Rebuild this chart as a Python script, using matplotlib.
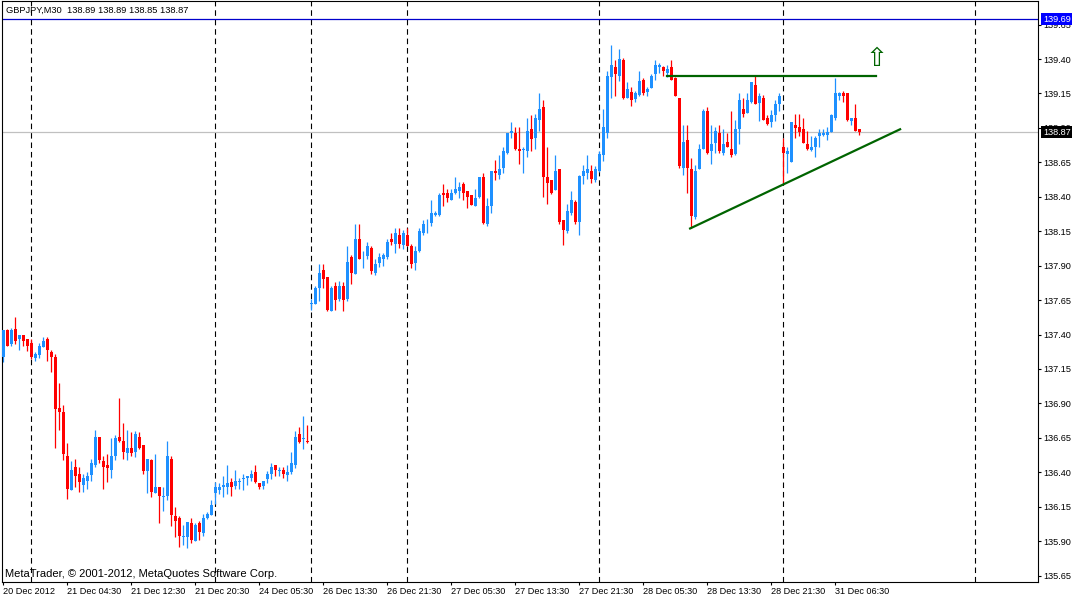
import matplotlib
matplotlib.use("Agg")
import matplotlib.pyplot as plt
import matplotlib.transforms as mtransforms
import numpy as np

plt.rcParams['font.family'] = ['Liberation Sans', 'DejaVu Sans']

symbol = "GBPJPY,M30"

# GBPJPY M30 bars
opens = [137.24, 137.43, 137.33, 137.44, 137.37, 137.40, 137.37, 137.34, 137.23, 137.25,
         137.31, 137.37, 137.27, 137.24, 136.87, 136.84, 136.52, 136.27, 136.44, 136.39,
         136.31, 136.34, 136.38, 136.45, 136.66, 136.48, 136.45, 136.42, 136.52, 136.66,
         136.63, 136.54, 136.58, 136.55, 136.66, 136.60, 136.41, 136.49, 136.25, 136.29,
         136.22, 136.23, 136.50, 136.08, 136.07, 135.93, 135.93, 136.03, 135.90, 136.03,
         135.96, 136.07, 136.09, 136.25, 136.27, 136.29, 136.29, 136.33, 136.30, 136.33,
         136.35, 136.36, 136.36, 136.40, 136.32, 136.30, 136.35, 136.39, 136.45, 136.41,
         136.42, 136.38, 136.40, 136.45, 136.68, 136.64, 136.63, 137.62, 137.62, 137.74,
         137.87, 137.82, 137.57, 137.75, 137.66, 137.75, 137.66, 137.96, 137.84, 138.09,
         137.96, 137.97, 138.03, 137.85, 137.92, 137.95, 137.96, 138.09, 138.06, 138.12,
         138.05, 138.12, 138.04, 137.92, 138.01, 138.14, 138.20, 138.21, 138.27, 138.27,
         138.43, 138.43, 138.38, 138.43, 138.44, 138.49, 138.44, 138.41, 138.33, 138.40,
         138.54, 138.20, 138.33, 138.59, 138.56, 138.61, 138.72, 138.86, 138.86, 138.75,
         138.74, 138.73, 138.89, 138.83, 138.96, 139.05, 138.54, 138.52, 138.45, 138.60,
         138.23, 138.15, 138.28, 138.36, 138.22, 138.55, 138.57, 138.59, 138.52, 138.59,
         138.70, 138.86, 139.27, 139.34, 139.28, 139.39, 139.12, 139.16, 139.11, 139.14,
         139.25, 139.16, 139.19, 139.29, 139.34, 139.34, 139.30, 139.34, 139.26, 139.12,
         138.61, 138.81, 138.60, 138.25, 138.60, 138.75, 139.02, 138.73, 138.79, 138.86,
         138.72, 138.80, 138.75, 138.71, 138.89, 139.04, 139.01, 139.09, 139.21, 139.08,
         139.12, 138.97, 138.94, 138.99, 139.07, 138.76, 138.71, 138.65, 138.92, 138.91,
         138.89, 138.78, 138.74, 138.76, 138.84, 138.85, 138.85, 138.87, 138.97, 139.13,
         139.15, 139.15, 138.95, 138.97, 138.89]
highs = [137.43, 137.44, 137.45, 137.53, 137.40, 137.40, 137.37, 137.37, 137.27, 137.34,
         137.38, 137.38, 137.29, 137.26, 137.05, 136.89, 136.61, 136.48, 136.50, 136.44,
         136.39, 136.40, 136.50, 136.71, 136.66, 136.52, 136.53, 136.65, 136.67, 136.94,
         136.76, 136.71, 136.69, 136.70, 136.69, 136.60, 136.50, 136.50, 136.53, 136.29,
         136.29, 136.63, 136.52, 136.15, 136.08, 136.02, 136.04, 136.07, 136.03, 136.05,
         136.10, 136.11, 136.20, 136.33, 136.32, 136.37, 136.45, 136.36, 136.42, 136.36,
         136.39, 136.37, 136.42, 136.45, 136.32, 136.34, 136.41, 136.47, 136.45, 136.44,
         136.44, 136.45, 136.55, 136.70, 136.73, 136.81, 136.74, 137.66, 137.75, 137.91,
         137.91, 137.82, 137.75, 137.78, 137.79, 137.78, 138.04, 137.98, 138.20, 138.20,
         138.01, 138.07, 138.04, 137.95, 137.99, 137.99, 138.09, 138.14, 138.17, 138.17,
         138.16, 138.17, 138.06, 138.04, 138.17, 138.23, 138.24, 138.38, 138.30, 138.43,
         138.49, 138.46, 138.46, 138.54, 138.51, 138.51, 138.44, 138.41, 138.46, 138.54,
         138.57, 138.39, 138.59, 138.67, 138.70, 138.76, 138.86, 138.94, 138.91, 138.91,
         138.76, 138.97, 138.99, 139.00, 139.15, 139.10, 138.76, 138.52, 138.70, 138.60,
         138.23, 138.35, 138.44, 138.38, 138.56, 138.63, 138.70, 138.63, 138.62, 138.73,
         139.04, 139.31, 139.50, 139.39, 139.47, 139.41, 139.23, 139.20, 139.17, 139.31,
         139.26, 139.20, 139.29, 139.39, 139.37, 139.35, 139.36, 139.39, 139.27, 139.12,
         138.92, 138.92, 138.68, 138.63, 138.78, 139.04, 139.05, 138.92, 138.91, 138.92,
         138.89, 138.86, 139.02, 138.96, 139.15, 139.12, 139.15, 139.23, 139.28, 139.15,
         139.14, 138.99, 139.03, 139.10, 139.15, 138.83, 138.76, 138.94, 139.00, 139.00,
         138.97, 138.88, 138.84, 138.84, 138.89, 138.89, 138.91, 139.00, 139.26, 139.16,
         139.17, 139.15, 138.97, 139.07, 138.89]
lows = [137.20, 137.32, 137.32, 137.33, 137.29, 137.32, 137.28, 137.22, 137.21, 137.23,
        137.31, 137.21, 137.13, 136.58, 136.71, 136.49, 136.21, 136.27, 136.29, 136.26,
        136.26, 136.28, 136.34, 136.44, 136.47, 136.28, 136.33, 136.36, 136.49, 136.62,
        136.50, 136.49, 136.52, 136.51, 136.57, 136.39, 136.25, 136.22, 136.25, 136.03,
        136.12, 136.20, 136.01, 135.93, 135.86, 135.87, 135.85, 135.89, 135.90, 135.91,
        135.94, 136.06, 136.09, 136.17, 136.24, 136.22, 136.24, 136.23, 136.28, 136.28,
        136.27, 136.31, 136.34, 136.32, 136.28, 136.28, 136.32, 136.35, 136.37, 136.37,
        136.36, 136.34, 136.39, 136.43, 136.61, 136.57, 136.61, 137.58, 137.62, 137.64,
        137.74, 137.57, 137.57, 137.58, 137.64, 137.57, 137.64, 137.77, 137.84, 137.95,
        137.88, 137.95, 137.84, 137.83, 137.89, 137.90, 137.95, 138.05, 137.99, 138.03,
        138.02, 138.04, 137.88, 137.87, 138.00, 138.12, 138.14, 138.19, 138.26, 138.26,
        138.33, 138.36, 138.38, 138.42, 138.39, 138.38, 138.32, 138.34, 138.33, 138.39,
        138.20, 138.19, 138.28, 138.52, 138.53, 138.57, 138.71, 138.83, 138.74, 138.64,
        138.57, 138.69, 138.73, 138.75, 138.88, 138.40, 138.35, 138.42, 138.45, 138.20,
        138.05, 138.14, 138.27, 138.20, 138.12, 138.49, 138.53, 138.50, 138.51, 138.58,
        138.66, 138.83, 139.12, 139.13, 139.24, 139.11, 139.12, 139.06, 139.09, 139.13,
        139.14, 139.13, 139.19, 139.25, 139.30, 139.28, 139.27, 139.25, 139.13, 138.61,
        138.56, 138.43, 138.17, 138.24, 138.60, 138.75, 138.71, 138.64, 138.72, 138.72,
        138.70, 138.76, 138.69, 138.70, 138.78, 138.98, 139.01, 139.08, 139.07, 138.95,
        138.96, 138.92, 138.91, 138.95, 139.02, 138.50, 138.57, 138.65, 138.83, 138.84,
        138.79, 138.74, 138.73, 138.69, 138.76, 138.84, 138.81, 138.87, 138.96, 139.10,
        139.09, 138.95, 138.92, 138.88, 138.85]
closes = [137.43, 137.32, 137.43, 137.35, 137.40, 137.35, 137.32, 137.24, 137.26, 137.32,
          137.35, 137.29, 137.24, 136.86, 136.84, 136.53, 136.28, 136.42, 136.37, 136.33,
          136.36, 136.37, 136.47, 136.66, 136.49, 136.44, 136.43, 136.52, 136.65, 136.63,
          136.55, 136.58, 136.54, 136.68, 136.58, 136.41, 136.50, 136.26, 136.29, 136.23,
          136.23, 136.52, 136.09, 136.05, 135.94, 135.94, 136.04, 135.91, 136.02, 135.97,
          136.07, 136.10, 136.16, 136.29, 136.29, 136.31, 136.32, 136.29, 136.34, 136.34,
          136.36, 136.37, 136.39, 136.33, 136.29, 136.34, 136.39, 136.44, 136.42, 136.42,
          136.39, 136.40, 136.47, 136.66, 136.62, 136.65, 136.62, 137.63, 137.74, 137.85,
          137.80, 137.58, 137.74, 137.65, 137.75, 137.65, 137.93, 137.85, 138.09, 137.95,
          137.96, 138.04, 137.86, 137.91, 137.96, 137.98, 138.07, 138.07, 138.14, 138.06,
          138.14, 138.04, 137.91, 138.01, 138.15, 138.20, 138.20, 138.28, 138.28, 138.41,
          138.41, 138.39, 138.43, 138.46, 138.47, 138.43, 138.40, 138.34, 138.39, 138.54,
          138.21, 138.33, 138.59, 138.57, 138.60, 138.73, 138.86, 138.88, 138.75, 138.73,
          138.75, 138.88, 138.82, 138.97, 139.04, 138.54, 138.50, 138.43, 138.59, 138.22,
          138.16, 138.30, 138.38, 138.22, 138.55, 138.59, 138.60, 138.53, 138.60, 138.71,
          138.91, 139.28, 139.36, 139.29, 139.40, 139.12, 139.18, 139.10, 139.15, 139.24,
          139.15, 139.18, 139.28, 139.36, 139.36, 139.31, 139.33, 139.25, 139.13, 138.62,
          138.80, 138.61, 138.26, 138.59, 138.75, 139.02, 138.72, 138.78, 138.88, 138.73,
          138.78, 138.76, 138.70, 138.89, 139.10, 139.00, 139.10, 139.23, 139.07, 139.13,
          138.96, 138.93, 138.99, 139.07, 139.13, 138.72, 138.73, 138.94, 138.90, 138.87,
          138.79, 138.75, 138.76, 138.83, 138.86, 138.86, 138.87, 138.99, 139.15, 139.15,
          139.13, 138.96, 138.97, 138.88, 138.87]

tick_bars = [0, 16, 32, 48, 64, 80, 96, 112, 128, 144, 160, 176, 192, 208]
tick_labels = ["20 Dec 2012", "21 Dec 04:30", "21 Dec 12:30", "21 Dec 20:30",
               "24 Dec 05:30", "26 Dec 13:30", "26 Dec 21:30", "27 Dec 05:30",
               "27 Dec 13:30", "27 Dec 21:30", "28 Dec 05:30", "28 Dec 13:30",
               "28 Dec 21:30", "31 Dec 06:30"]
separator_bars = [7, 53, 77, 101, 149, 195, 243]
price_ticks = [135.65, 135.90, 136.15, 136.40, 136.65, 136.90, 137.15, 137.40, 137.65,
               137.90, 138.15, 138.40, 138.65, 138.90, 139.15, 139.40, 139.65]

ask_level = 139.69
resist_bars = [165.9, 218.1]
resist_prices = [139.28, 139.28]
support_bars = [171.7, 224.2]
support_prices = [138.17, 138.89]

o = np.array(opens)
h = np.array(highs)
l = np.array(lows)
c = np.array(closes)
x = np.arange(len(o))
bid = c[-1]

fig = plt.figure(figsize=(10.75, 5.99), dpi=100)
ax = fig.add_axes([2 / 1075, 1 - 582 / 599, 1036 / 1075, 581 / 599])
ax.set_xlim(-0.325, 258.675)
ax.set_ylim(135.604, 139.821)

for b in separator_bars:
    ax.axvline(b, color='black', lw=0.8, ls=(0, (5, 3.5)), zorder=0.5)

ax.axhline(ask_level, color='#0000CC', lw=0.9, zorder=1)
ax.axhline(bid, color='#C0C0C0', lw=0.9, zorder=1)

colors = np.where(c >= o, '#1E90FF', '#FF0000')
ax.vlines(x, l, h, colors=colors, lw=0.9, zorder=2)
ax.bar(x, np.maximum(np.abs(c - o), 0.006), bottom=np.minimum(o, c), width=0.75,
       color=colors, linewidth=0, zorder=3)

ax.plot(resist_bars, resist_prices, color='#006400', lw=1.6, zorder=4)
ax.plot(support_bars, support_prices, color='#006400', lw=1.6, zorder=4)
ax.text(218.2, 139.40, "\u21e7", color='#006400', fontsize=19, ha='center', va='center',
        family=['DejaVu Sans'], zorder=5)

ax.yaxis.tick_right()
ax.set_yticks(price_ticks)
ax.set_yticklabels(["%.2f" % p for p in price_ticks])
ax.set_xticks(tick_bars)
ax.set_xticklabels(tick_labels)
for lab in ax.get_xticklabels():
    lab.set_horizontalalignment('left')
ax.tick_params(axis='both', direction='out', length=2.2, width=0.8, labelsize=6.6,
               colors='black')
ax.tick_params(axis='x', pad=1.5)
ax.tick_params(axis='y', pad=1.5)
for s in ax.spines.values():
    s.set_linewidth(0.8)
    s.set_color('black')

trans = mtransforms.blended_transform_factory(ax.transAxes, ax.transData)
ax.text(1.0048, ask_level, "%.2f" % ask_level, transform=trans, color='white', fontsize=6.6,
        ha='left', va='center', clip_on=False, zorder=10,
        bbox=dict(facecolor='#0000FF', edgecolor='none', pad=1.2))
ax.text(1.0048, bid, "%.2f" % bid, transform=trans, color='white', fontsize=6.6,
        ha='left', va='center', clip_on=False, zorder=10,
        bbox=dict(facecolor='black', edgecolor='none', pad=1.2))

fig.text(6 / 1075, 1 - 10 / 599, "%s  %.2f %.2f %.2f %.2f" % (symbol, o[-1], h[-1], l[-1], c[-1]),
         fontsize=6.7, va='center', ha='left')
fig.text(5 / 1075, 1 - 574 / 599, "MetaTrader, \u00a9 2001-2012, MetaQuotes Software Corp.",
         fontsize=8, va='center', ha='left')

fig.savefig("out.png", dpi=100, facecolor='white')
